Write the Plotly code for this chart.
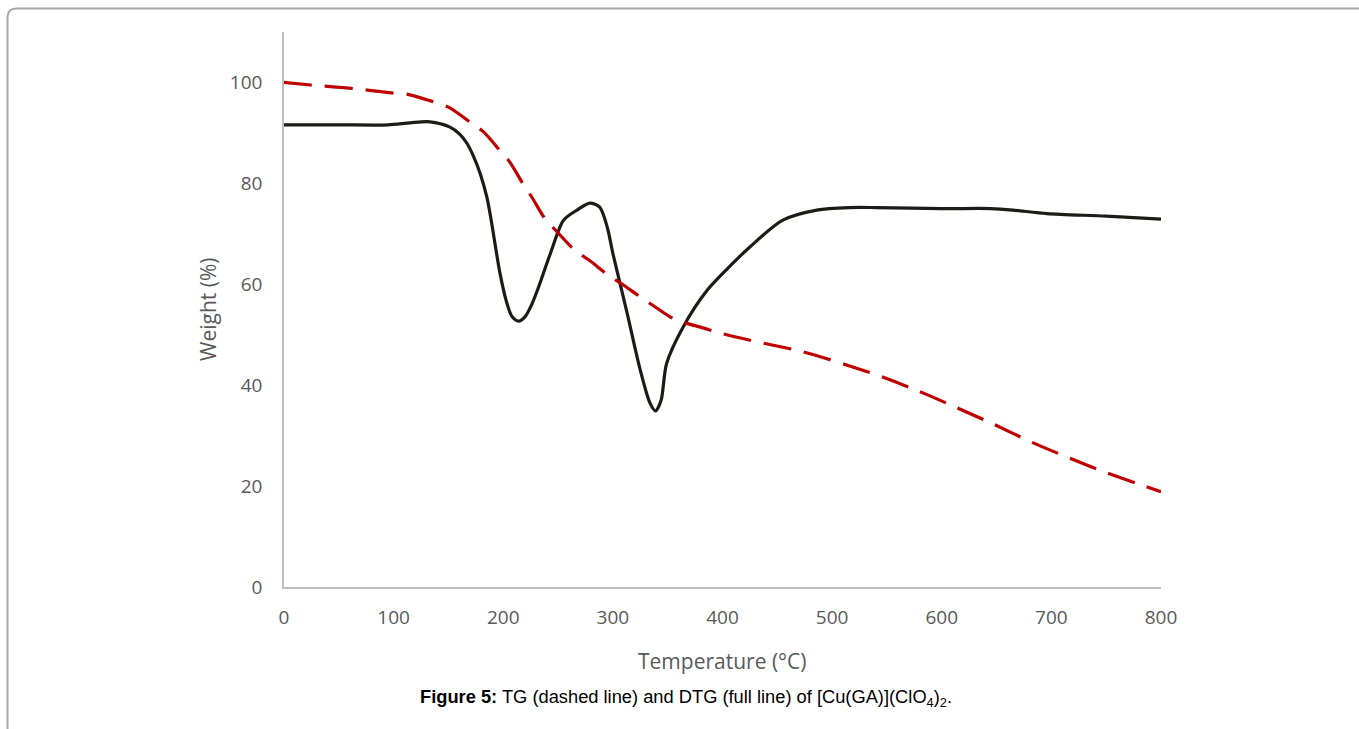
import plotly.graph_objects as go

# DTG (full line)
dtg_temp = [0, 50, 95, 115, 133, 151, 160, 167, 173, 179, 185, 189, 197, 203, 208, 214, 220,
            226, 232, 243, 255, 268, 279, 288, 295, 300, 313, 325, 334, 339, 344, 349, 364,
            386, 405, 425, 455, 486, 516, 540, 600, 645, 665, 696, 750, 800]
dtg_val = [91.6, 91.6, 91.6, 92.0, 92.2, 91.2, 89.8, 87.9, 85.3, 81.9, 77.3, 72.7, 62.2, 56.5,
           53.6, 52.7, 53.6, 56.0, 59.3, 66.1, 72.7, 74.8, 76.1, 75.3, 71.2, 66.1, 54.3, 43.0,
           36.4, 34.9, 37.0, 44.3, 51.5, 58.8, 63.2, 67.4, 72.7, 74.7, 75.2, 75.2, 75.0, 75.0,
           74.7, 74.0, 73.5, 72.9]

# TG (dashed line)
tg_temp = [0, 24, 63, 100, 114, 133, 150, 170, 182, 197, 206, 218, 226, 238, 250, 264, 280,
           294, 310, 325, 340, 355, 368, 380, 400, 425, 468, 490, 516, 541, 577, 611,
           646, 681, 716, 751, 785, 800]
tg_val = [100, 99.5, 98.8, 97.9, 97.6, 96.4, 95.1, 92.1, 90.2, 86.5, 84.2, 79.9, 77.3, 73.0,
          70.2, 67.0, 64.5, 62.1, 59.8, 57.5, 55.3, 53.2, 52.2, 51.5, 50.2, 48.9, 46.9,
          45.6, 43.8, 42.0, 39.0, 35.8, 32.4, 28.8, 25.6, 22.6, 20.0, 18.9]

x_ticks = [0, 100, 200, 300, 400, 500, 600, 700, 800]
y_ticks = [0, 20, 40, 60, 80, 100]

fig = go.Figure()
fig.add_trace(go.Scatter(x=dtg_temp, y=dtg_val, mode="lines", name="DTG",
                         line=dict(color="#1e1b16", width=3.2, shape="spline", smoothing=0.8)))
fig.add_trace(go.Scatter(x=tg_temp, y=tg_val, mode="lines", name="TG",
                         line=dict(color="#c00000", width=3.2, dash="28px,13px",
                                   shape="spline", smoothing=0.8)))

L, R, T, B = 284, 1359 - 1161, 32, 729 - 587
PW, PH = 1359 - L - R, 729 - T - B

def px(xp):
    return (xp - L) / PW

def py(yp):
    return (729 - B - yp) / PH

tickfont = dict(family="Open Sans, Lato, sans-serif", size=19, color="#595959")
fig.update_layout(
    width=1359, height=729,
    margin=dict(l=L, r=R, t=T, b=B),
    paper_bgcolor="white", plot_bgcolor="white",
    showlegend=False,
    xaxis=dict(range=[0, 800], tickvals=x_ticks, showgrid=False, zeroline=False,
               showline=True, linecolor="#bfbfbf", linewidth=1.5, ticks="",
               tickfont=tickfont, ticklabelstandoff=12, fixedrange=True),
    yaxis=dict(range=[0, 110], tickvals=y_ticks, showgrid=False, zeroline=False,
               showline=True, linecolor="#bfbfbf", linewidth=1.5, ticks="",
               tickfont=tickfont, ticklabelstandoff=16, fixedrange=True),
)

fig.add_annotation(text="Temperature (°C)", xref="paper", yref="paper",
                   x=px(722), y=py(661), showarrow=False, xanchor="center", yanchor="middle",
                   font=dict(family="Open Sans, Lato, sans-serif", size=21, color="#595959"))
fig.add_annotation(text="Weight (%)", xref="paper", yref="paper", textangle=-90,
                   x=px(208), y=py(310), showarrow=False, xanchor="center", yanchor="middle",
                   font=dict(family="Open Sans, Lato, sans-serif", size=21, color="#595959"))
fig.add_annotation(text="<b>Figure 5:</b> TG (dashed line) and DTG (full line) of [Cu(GA)](ClO<sub>4</sub>)<sub>2</sub>.",
                   xref="paper", yref="paper", x=px(686), y=py(698), showarrow=False,
                   xanchor="center", yanchor="middle",
                   font=dict(family="Liberation Sans, Arial, sans-serif", size=18.3, color="#000000"))

# rounded frame around the figure
x0, y0 = px(7.5), py(8.5)
xr, yb = px(1400), py(760)
dx, dy = 9 / PW, 9 / PH
path = (f"M {x0},{yb} L {x0},{y0 - dy} Q {x0},{y0} {x0 + dx},{y0} L {xr},{y0}")
fig.add_shape(type="path", xref="paper", yref="paper", path=path,
              line=dict(color="#a8a8a8", width=2), layer="above")

fig.write_html("out.html", config={"displayModeBar": False},
               post_script="document.body.style.margin='0';document.body.style.padding='0';")
